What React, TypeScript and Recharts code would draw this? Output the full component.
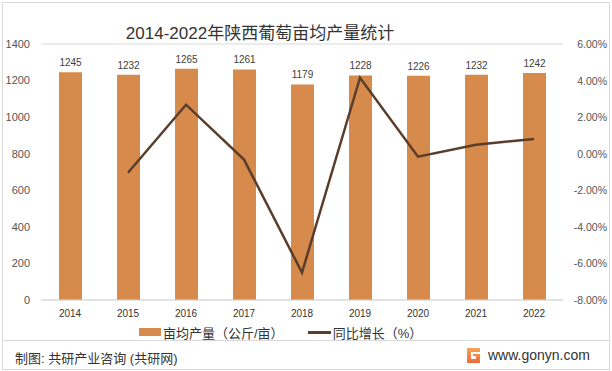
import React from "react";
import {
  ComposedChart,
  Bar,
  Line,
  XAxis,
  YAxis,
  CartesianGrid,
  LabelList,
} from "recharts";

const years = ["2014", "2015", "2016", "2017", "2018", "2019", "2020", "2021", "2022"];
const yieldPerMu = [1245, 1232, 1265, 1261, 1179, 1228, 1226, 1232, 1242];
const growthPct = [null, -1.04, 2.68, -0.32, -6.5, 4.16, -0.16, 0.49, 0.81];
const leftTicks = [0, 200, 400, 600, 800, 1000, 1200, 1400];
const rightTicks = [-8, -6, -4, -2, 0, 2, 4, 6];

const data = years.map((year, i) => ({
  year,
  yield: yieldPerMu[i],
  growth: growthPct[i],
}));

const FONT = "'Liberation Sans', 'Noto Sans CJK SC', sans-serif";
const BAR_COLOR = "#D68B4C";
const LINE_COLOR = "#5A3E2B";

// right axis labels are right-aligned against the chart edge
const RightTick = (props: any) => {
  const { y, payload } = props;
  return (
    <text
      x={607}
      y={y}
      dy={4}
      textAnchor="end"
      fontSize={10.5}
      fill="#555"
      fontFamily={FONT}
    >
      {`${Number(payload.value).toFixed(2)}%`}
    </text>
  );
};

const App = () => {
  return (
    <div
      style={{
        position: "absolute",
        left: 0,
        top: 0,
        width: 612,
        height: 371,
        background: "#fff",
        fontFamily: FONT,
      }}
    >
      <div
        style={{
          position: "absolute",
          left: 2,
          top: 2,
          width: 606,
          height: 366,
          border: "1px solid #d9d9d9",
        }}
      />
      <div
        style={{
          position: "absolute",
          left: 0,
          width: 520,
          top: 19,
          textAlign: "center",
          fontSize: 17,
          color: "#333",
        }}
      >
        2014-2022年陕西葡萄亩均产量统计
      </div>
      <div style={{ position: "absolute", left: 0, top: 0 }}>
        <ComposedChart
          width={612}
          height={340}
          data={data}
          margin={{ top: 44, right: 0, left: 0, bottom: 20 }}
        >
          <CartesianGrid vertical={false} stroke="#d9d9d9" />
          <XAxis
            dataKey="year"
            height={20}
            axisLine={{ stroke: "#d9d9d9" }}
            tickLine={false}
            tickSize={0}
            tickMargin={10}
            tick={{ fontSize: 10, fill: "#333", fontFamily: FONT }}
          />
          <YAxis
            yAxisId="left"
            width={41}
            domain={[0, 1400]}
            ticks={leftTicks}
            axisLine={false}
            tickLine={false}
            tickSize={0}
            tickMargin={11}
            tick={{ fontSize: 11, fill: "#555", fontFamily: FONT }}
          />
          <YAxis
            yAxisId="right"
            orientation="right"
            width={49}
            domain={[-8, 6]}
            ticks={rightTicks}
            axisLine={false}
            tickLine={false}
            tick={<RightTick />}
          />
          <Bar
            yAxisId="left"
            dataKey="yield"
            fill={BAR_COLOR}
            barSize={23}
            isAnimationActive={false}
          >
            <LabelList
              dataKey="yield"
              position="top"
              offset={6}
              style={{ fontSize: 10, fill: "#404040", fontFamily: FONT }}
            />
          </Bar>
          <Line
            yAxisId="right"
            dataKey="growth"
            type="linear"
            stroke={LINE_COLOR}
            strokeWidth={2.5}
            dot={false}
            activeDot={false}
            isAnimationActive={false}
          />
        </ComposedChart>
      </div>
      <div
        style={{
          position: "absolute",
          left: 139,
          top: 323,
          height: 18,
          display: "flex",
          alignItems: "center",
          fontSize: 13,
          color: "#333",
          whiteSpace: "nowrap",
        }}
      >
        <span style={{ width: 22, height: 8, background: BAR_COLOR, display: "inline-block" }} />
        <span style={{ marginLeft: 2 }}>亩均产量（公斤/亩）</span>
        <span
          style={{
            width: 23,
            height: 3,
            background: LINE_COLOR,
            display: "inline-block",
            marginLeft: 24,
          }}
        />
        <span style={{ marginLeft: 2 }}>同比增长（%）</span>
      </div>
      <div
        style={{
          position: "absolute",
          left: 3,
          top: 340,
          width: 606,
          height: 1,
          background: "#d9d9d9",
        }}
      />
      <div
        style={{
          position: "absolute",
          left: 15,
          top: 348,
          fontSize: 13,
          color: "#333",
        }}
      >
        制图: 共研产业咨询 (共研网)
      </div>
      <div
        style={{
          position: "absolute",
          left: 467,
          top: 347,
          display: "flex",
          alignItems: "center",
        }}
      >
        <svg width={13} height={15} viewBox="0 0 13 15">
          <defs>
            <linearGradient id="lg" x1="0" y1="0" x2="0" y2="1">
              <stop offset="0" stopColor="#F7A35C" />
              <stop offset="1" stopColor="#EE6A3A" />
            </linearGradient>
          </defs>
          <path d="M0 0 H13 V4 H4 V11 H9 V8 H6 V6 H13 V15 H0 Z" fill="url(#lg)" />
        </svg>
        <span style={{ marginLeft: 8, fontSize: 14, color: "#333" }}>www.gonyn.com</span>
      </div>
    </div>
  );
};

export default App;
